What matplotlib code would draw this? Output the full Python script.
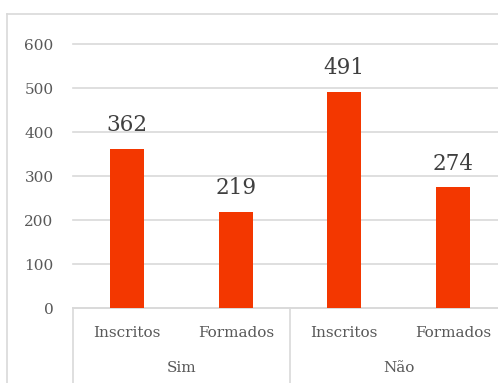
import matplotlib.pyplot as plt
from matplotlib.lines import Line2D
import matplotlib.transforms as mtransforms

categories = ['Inscritos', 'Formados', 'Inscritos', 'Formados']
groups = ['Sim', 'Não']
values = [362, 219, 491, 274]
yticks = [0, 100, 200, 300, 400, 500, 600]

W, H = 498, 383
fig = plt.figure(figsize=(W / 100, H / 100), dpi=100)
plt.rcParams['font.family'] = ['DejaVu Serif']

# plot area in pixels: x from 73, each category 108.5 px; y0 at 308, y600 at 44
left, cat_w = 73, 108.5
ax = fig.add_axes([left / W, (H - 308) / H, 4 * cat_w / W, 264 / H])
ax.set_xlim(-0.5, 3.5)
ax.set_ylim(0, 600)

x = list(range(len(values)))
ax.bar(x, values, width=0.315, color='#F33700', zorder=3)
for xi, v in zip(x, values):
    ax.text(xi, v + 29, str(v), ha='center', va='bottom', fontsize=15.5, color='#404040')

ax.set_yticks(yticks)
ax.set_yticklabels([str(t) for t in yticks], fontsize=11, color='#595959')
ax.tick_params(axis='y', length=0, pad=14)
ax.set_xticks([])
ax.grid(axis='y', color='#d9d9d9', linewidth=1.2, zorder=0)
for gl in ax.get_ygridlines():
    gl.set_clip_on(False)
for s in ['top', 'right', 'left']:
    ax.spines[s].set_visible(False)
ax.spines['bottom'].set_color('#d9d9d9')
ax.spines['bottom'].set_linewidth(1.2)

trans = mtransforms.blended_transform_factory(ax.transData, fig.transFigure)
for xi, c in zip(x, categories):
    ax.text(xi, 1 - 333 / H, c, transform=trans, ha='center', va='center',
            fontsize=11, color='#595959')
for gi, g in enumerate(groups):
    ax.text(gi * 2 + 0.5, 1 - 368 / H, g, transform=trans, ha='center', va='center',
            fontsize=11, color='#595959')
for xb in [-0.5, 1.5, 3.5]:
    ax.add_line(Line2D([xb, xb], [(H - 308) / H, 0], transform=trans, color='#d9d9d9',
                       linewidth=1.2, clip_on=False))

# outer chart frame
fig.add_artist(Line2D([7 / W, 7 / W], [0, 1 - 14 / H], transform=fig.transFigure,
                      color='#d9d9d9', linewidth=1.2))
fig.add_artist(Line2D([7 / W, 1], [1 - 14 / H, 1 - 14 / H], transform=fig.transFigure,
                      color='#d9d9d9', linewidth=1.2))

fig.savefig('out.png', dpi=100)
